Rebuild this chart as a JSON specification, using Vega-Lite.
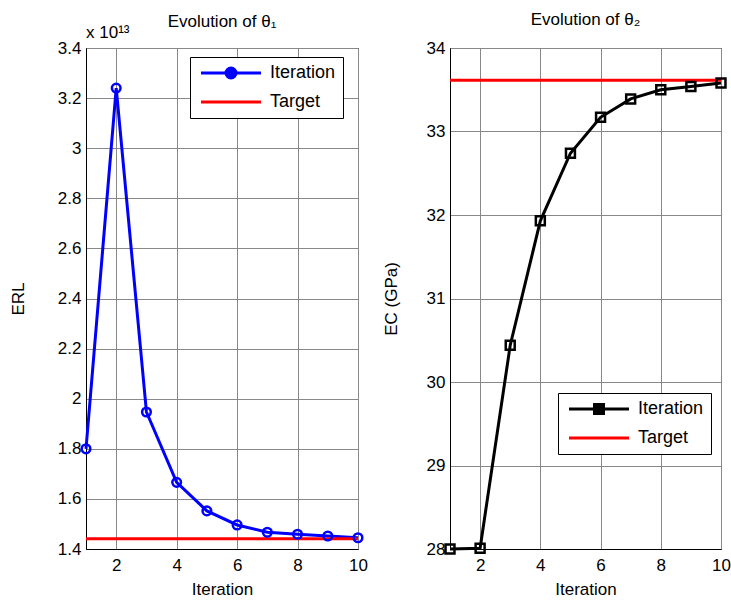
{
  "$schema": "https://vega.github.io/schema/vega-lite/v6.json",
  "background": "white",
  "padding": {"left": 8, "top": 10, "right": 2, "bottom": 5},
  "spacing": 13,
  "config": {
    "font": "Liberation Sans",
    "view": {"stroke": "black", "strokeWidth": 1},
    "axis": {
      "labelFont": "Liberation Sans", "labelFontSize": 17, "labelColor": "black",
      "titleFont": "Liberation Sans", "titleFontSize": 17, "titleFontWeight": "normal", "titleColor": "black",
      "domainColor": "black", "gridColor": "#888", "gridWidth": 1, "ticks": false, "labelPadding": 5, "labelFlush": false
    },
    "axisX": {"labelPadding": 8, "titlePadding": 8},
    "legend": {
      "labelFont": "Liberation Sans", "labelFontSize": 18, "labelColor": "black",
      "strokeColor": "black", "fillColor": "white", "padding": 7, "symbolSize": 100, "symbolStrokeWidth": 3, "rowPadding": 9, "labelOffset": 55
    }
  },
  "resolve": {"scale": {"color": "independent"}, "legend": {"color": "independent"}},
  "hconcat": [
    {
      "width": 272, "height": 501,
      "title": {"text": "Evolution of θ₁", "font": "Liberation Sans", "fontSize": 17, "fontWeight": "normal", "color": "black", "offset": -7},
      "data": {"values": [
        {"iteration": 1, "E_RL": 1.80e13, "series": "Iteration"},
        {"iteration": 2, "E_RL": 3.24e13, "series": "Iteration"},
        {"iteration": 3, "E_RL": 1.947e13, "series": "Iteration"},
        {"iteration": 4, "E_RL": 1.666e13, "series": "Iteration"},
        {"iteration": 5, "E_RL": 1.552e13, "series": "Iteration"},
        {"iteration": 6, "E_RL": 1.496e13, "series": "Iteration"},
        {"iteration": 7, "E_RL": 1.467e13, "series": "Iteration"},
        {"iteration": 8, "E_RL": 1.459e13, "series": "Iteration"},
        {"iteration": 9, "E_RL": 1.452e13, "series": "Iteration"},
        {"iteration": 10, "E_RL": 1.445e13, "series": "Iteration"},
        {"iteration": 1, "E_RL": 1.441e13, "series": "Target"},
        {"iteration": 10, "E_RL": 1.441e13, "series": "Target"}
      ]},
      "encoding": {
        "x": {"field": "iteration", "type": "quantitative", "scale": {"domain": [1, 10], "nice": false, "zero": false},
              "axis": {"values": [2, 4, 6, 8, 10], "title": "Iteration", "grid": true}},
        "y": {"field": "E_RL", "type": "quantitative",
              "scale": {"domain": [1.4e13, 3.4e13], "nice": false, "zero": false},
              "axis": {"values": [1.4e13, 1.6e13, 1.8e13, 2.0e13, 2.2e13, 2.4e13, 2.6e13, 2.8e13, 3.0e13, 3.2e13, 3.4e13],
                       "labelExpr": "format(datum.value/1e13, '.3~g')", "title": "ERL", "titlePadding": 30, "grid": true}},
        "color": {"field": "series", "type": "nominal",
                  "scale": {"domain": ["Iteration", "Target"], "range": ["#0000ff", "#ff0000"]},
                  "legend": {"title": null, "orient": "none", "legendX": 104, "legendY": 9,
                             "encode": {"symbols": {"update": {
                               "shape": {"signal": "datum.value === 'Iteration' ? 'M-1,0H11M6,0A1,1,0,1,1,4,0A1,1,0,1,1,6,0' : 'M-1,0H11'"},
                               "fill": {"signal": "datum.value === 'Iteration' ? '#0000ff' : 'transparent'"},
                               "strokeWidth": {"value": 3}}}}}}
      },
      "layer": [
        {"mark": {"type": "line", "strokeWidth": 3}},
        {"transform": [{"filter": "datum.series === 'Iteration'"}],
         "mark": {"type": "point", "shape": "circle", "filled": false, "size": 75, "strokeWidth": 2.5, "opacity": 1}},
        {"data": {"values": [{"iteration": 1, "E_RL": 3.4e13, "note": "x 10¹³"}]},
         "mark": {"type": "text", "align": "left", "baseline": "bottom", "dy": -6, "dx": 0, "fontSize": 17, "fontWeight": "normal", "font": "Liberation Sans"},
         "encoding": {"text": {"field": "note"}, "color": {"value": "black"}}}
      ]
    },
    {
      "width": 271, "height": 501,
      "title": {"text": "Evolution of θ₂", "font": "Liberation Sans", "fontSize": 17, "fontWeight": "normal", "color": "black", "offset": 10},
      "data": {"values": [
        {"iteration": 1, "E_C": 28.0, "series": "Iteration"},
        {"iteration": 2, "E_C": 28.01, "series": "Iteration"},
        {"iteration": 3, "E_C": 30.44, "series": "Iteration"},
        {"iteration": 4, "E_C": 31.93, "series": "Iteration"},
        {"iteration": 5, "E_C": 32.74, "series": "Iteration"},
        {"iteration": 6, "E_C": 33.17, "series": "Iteration"},
        {"iteration": 7, "E_C": 33.39, "series": "Iteration"},
        {"iteration": 8, "E_C": 33.50, "series": "Iteration"},
        {"iteration": 9, "E_C": 33.54, "series": "Iteration"},
        {"iteration": 10, "E_C": 33.58, "series": "Iteration"},
        {"iteration": 1, "E_C": 33.615, "series": "Target"},
        {"iteration": 10, "E_C": 33.615, "series": "Target"}
      ]},
      "encoding": {
        "x": {"field": "iteration", "type": "quantitative", "scale": {"domain": [1, 10], "nice": false, "zero": false},
              "axis": {"values": [2, 4, 6, 8, 10], "title": "Iteration", "grid": true}},
        "y": {"field": "E_C", "type": "quantitative",
              "scale": {"domain": [28, 34], "nice": false, "zero": false},
              "axis": {"values": [28, 29, 30, 31, 32, 33, 34], "title": "EC (GPa)", "titlePadding": 26, "grid": true}},
        "color": {"field": "series", "type": "nominal",
                  "scale": {"domain": ["Iteration", "Target"], "range": ["#000000", "#ff0000"]},
                  "legend": {"title": null, "orient": "none", "legendX": 108, "legendY": 345,
                             "encode": {"symbols": {"update": {
                               "shape": {"signal": "datum.value === 'Iteration' ? 'M-1,0H11M4.1,-0.9H5.9V0.9H4.1Z' : 'M-1,0H11'"},
                               "fill": {"signal": "datum.value === 'Iteration' ? '#000000' : 'transparent'"},
                               "strokeWidth": {"value": 3}}}}}}
      },
      "layer": [
        {"mark": {"type": "line", "strokeWidth": 3}},
        {"transform": [{"filter": "datum.series === 'Iteration'"}],
         "mark": {"type": "point", "shape": "square", "filled": false, "size": 80, "strokeWidth": 2.5, "opacity": 1}}
      ]
    }
  ]
}
